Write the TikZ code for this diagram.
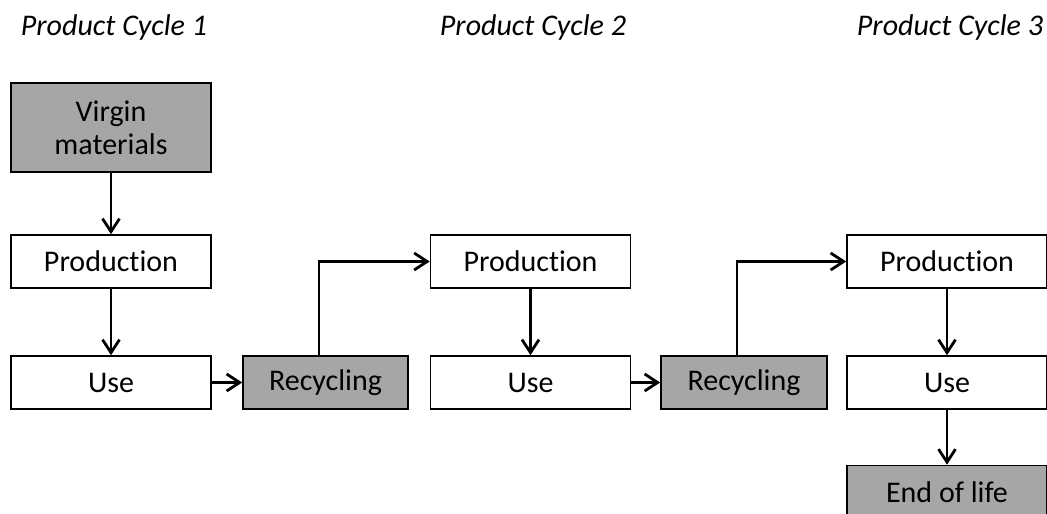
\documentclass[tikz,border=0pt]{standalone}
\usepackage{fontspec}
\setmainfont{Carlito}[Ligatures=NoCommon]
\usetikzlibrary{arrows.meta}
\definecolor{boxgray}{RGB}{166,166,166}

\begin{document}
\begin{tikzpicture}[x=0.5pt,y=-0.5pt,
    font=\fontsize{15}{16.5}\selectfont,
    stage/.style={draw=black,line width=0.8pt,fill=white,inner sep=0pt,
      minimum width=100pt,minimum height=26.5pt,align=center},
    grey/.style={stage,fill=boxgray},
    flow/.style={line width=1.4pt,-{Straight Barb[length=6.5pt,width=8.5pt]}}]
   \useasboundingbox (0,0) rectangle (1047,513);
   \clip (0,0) rectangle (1047,513);
   \foreach \x/\n in {114/1, 533/2, 950/3} % cycle headings
     \node[anchor=base,font=\fontsize{15}{16.5}\selectfont\itshape] at (\x,36) {Product Cycle \n};
   % cycle 1
   \node[grey,minimum height=44.5pt] (virgin) at (111,127.5) {Virgin\\materials};
   \node[stage] (prodA) at (111,261.5) {Production};
   \node[stage] (useA) at (111,382.5) {Use};
   \node[grey,minimum width=82.5pt] (recA) at (325.5,382.5) {Recycling};
   % cycle 2
   \node[stage] (prodB) at (530.5,261.5) {Production};
   \node[stage] (useB) at (530.5,382.5) {Use};
   \node[grey,minimum width=83pt] (recB) at (744,382.5) {Recycling};
   % cycle 3
   \node[stage] (prodC) at (947,261.5) {Production};
   \node[stage] (useC) at (947,382.5) {Use};
   \node[grey] (eol) at (947,492) {End of life};
   % arrows
   \draw[flow] (virgin) -- (prodA);
   \draw[flow] (prodA) -- (useA);
   \draw[flow] (useA) -- (recA);
   \draw[flow] ([xshift=-3.25pt]recA.north) |- (prodB.west);
   \draw[flow] (prodB) -- (useB);
   \draw[flow] (useB) -- (recB);
   \draw[flow] ([xshift=-3.5pt]recB.north) |- (prodC.west);
   \draw[flow] (prodC) -- (useC);
   \draw[flow] (useC) -- (eol);
\end{tikzpicture}
\end{document}
